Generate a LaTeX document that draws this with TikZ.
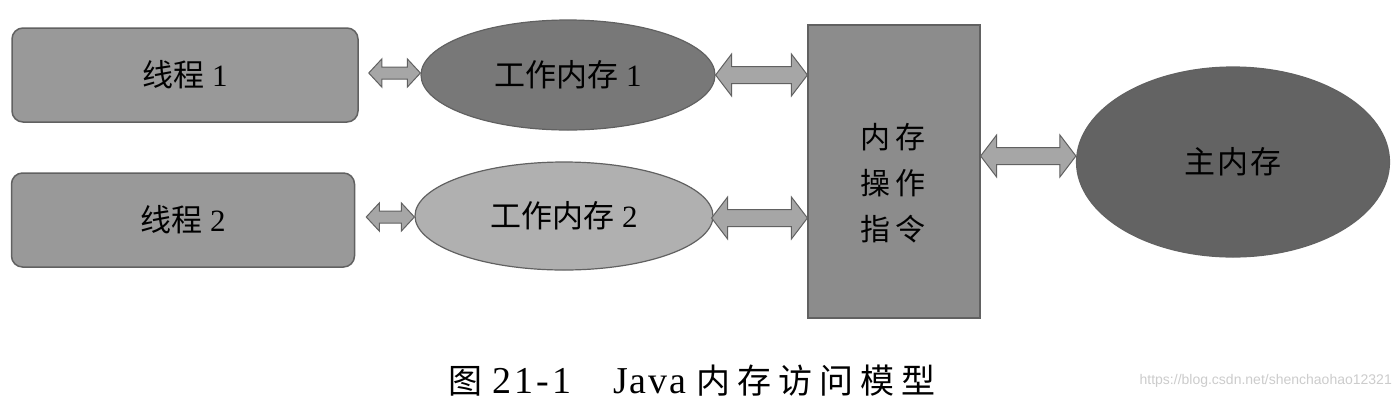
\documentclass[tikz,border=0pt]{standalone}
\usepackage{fontspec}
\setmainfont{Liberation Serif}
\setsansfont{Liberation Sans}
\newfontfamily\cjk{Noto Sans CJK SC}
\usetikzlibrary{shapes.geometric,calc}
\definecolor{threadfill}{gray}{0.60}
\definecolor{wm1fill}{gray}{0.47}
\definecolor{wm2fill}{gray}{0.69}
\definecolor{opfill}{gray}{0.55}
\definecolor{mainfill}{gray}{0.39}
\definecolor{edgecol}{gray}{0.38}
\definecolor{arrfill}{gray}{0.65}
\definecolor{wmark}{gray}{0.80}
\tikzset{
  threadbox/.style={draw=edgecol, line width=1.5pt, fill=threadfill, rounded corners=11pt, inner sep=0pt, font=\fontsize{31}{34}\selectfont},
  wmem/.style={ellipse, draw=edgecol, line width=1.2pt, inner sep=0pt, font=\fontsize{31}{34}\selectfont},
  opbox/.style={draw=edgecol, line width=1.2pt, fill=opfill, inner sep=0pt},
  dblarrow/.style={draw=edgecol, line width=1pt, fill=arrfill, line join=miter},
}
% #1 start, #2 end, #3 head half height, #4 shaft half height, #5 head length
\newcommand{\myarrow}[5]{%
  \draw[dblarrow] let \p1=(#1), \p2=(#2) in
    (\x1,\y1) -- (\x1+#5pt,\y1+#3pt) -- (\x1+#5pt,\y1+#4pt) -- (\x2-#5pt,\y1+#4pt)
    -- (\x2-#5pt,\y1+#3pt) -- (\x2,\y1) -- (\x2-#5pt,\y1-#3pt) -- (\x2-#5pt,\y1-#4pt)
    -- (\x1+#5pt,\y1-#4pt) -- (\x1+#5pt,\y1-#3pt) -- cycle;}
\begin{document}
\begin{tikzpicture}[x=1pt,y=-1pt]
\useasboundingbox[fill=white] (0,0) rectangle (1400,408);
% nodes
\node[threadbox, minimum width=346pt, minimum height=94pt] (t1) at (185,75) {{\cjk 线程} 1};
\node[threadbox, minimum width=343pt, minimum height=94pt] (t2) at (183,220) {{\cjk 线程} 2};
\node[wmem, fill=wm1fill, minimum width=294pt, minimum height=110pt] (w1) at (568,75) {{\cjk 工作内存} 1};
\node[wmem, fill=wm2fill, minimum width=298pt, minimum height=108pt] (w2) at (564,216) {{\cjk 工作内存} 2};
\node[opbox, minimum width=172pt, minimum height=293pt] (op) at (894,171.5) {};
\node[font=\fontsize{30}{46}\selectfont\cjk, align=center] (optext) at (893,183) {内\,存\\操\,作\\指\,令};
\node[wmem, fill=mainfill, minimum width=313pt, minimum height=190pt] (mm) at (1233,162) {\cjk 主\kern2pt 内\kern2pt 存};
% connectors
\myarrow{$(t1.east)+(10,-2)$}{w1.west}{14}{6}{13}
\myarrow{$(t2.east)+(11,-3)$}{w2.west}{14}{6}{13}
\myarrow{w1.east}{op.west}{21}{8.5}{16}
\myarrow{$(w2.east)+(-2,2)$}{op.west}{21}{8.5}{16}
\myarrow{op.east |- 0,156}{mm.west}{21}{8.5}{16}
% caption
\node[font=\fontsize{38}{40}\selectfont] (cap) at (692,381) {{\fontsize{34}{36}\selectfont\cjk 图}\hspace{10pt}2\kern3pt1\kern3pt-\kern3pt1\hspace{42pt}J\kern2pt a\kern2pt v\kern2pt a\hspace{10pt}{\fontsize{34}{36}\selectfont\cjk 内\kern7pt 存\kern7pt 访\kern7pt 问\kern7pt 模\kern7pt 型}};
\node[font=\sffamily\fontsize{14}{16}\selectfont, text=wmark, anchor=east, inner sep=0pt] (wm) at (1392,381) {https://blog.csdn.net/shenchaohao12321};
\end{tikzpicture}
\end{document}
